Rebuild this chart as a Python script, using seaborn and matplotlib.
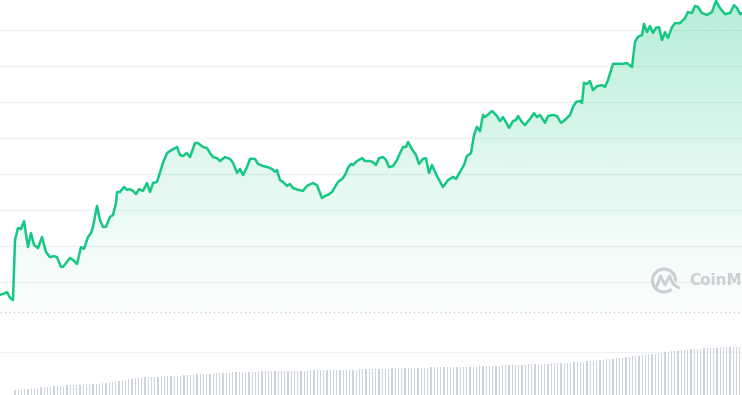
import numpy as np
import matplotlib
matplotlib.use("Agg")
import matplotlib.pyplot as plt
import seaborn as sns
from matplotlib.patches import Arc
from matplotlib.lines import Line2D

# ---------------- data ----------------
t = [0, 5, 7, 10, 13, 15, 18, 21, 24, 28, 31, 34, 38, 42, 46, 50, 54, 57, 61, 63, 67, 70, 73, 77, 81, 84, 88,
     91, 93, 97, 100, 103, 106, 110, 113, 116, 117, 120, 124, 127, 130, 133, 136, 139, 143, 147, 150, 153, 157,
     163, 167, 170, 177, 180, 183, 187, 190, 195, 198, 203, 207, 210, 213, 217, 220, 225, 230, 233, 237, 240,
     243, 247, 250, 255, 258, 263, 268, 272, 275, 277, 280, 283, 287, 290, 293, 298, 303, 307, 313, 317,
     322, 325, 328, 332, 335, 338, 342, 345, 348, 351, 353, 357, 362, 365, 370, 373, 376, 379, 383, 386, 389,
     393, 397, 400, 403, 406, 408, 412, 416, 419, 423, 426, 429, 432, 435, 438, 443, 448, 453, 456, 460, 464,
     467, 471, 474, 477, 480,
     483, 485, 492, 497, 500, 503, 507, 509, 513, 516, 518, 522, 525, 530, 534, 537, 540, 545, 548, 553, 557,
     561, 565, 570, 573, 576, 580, 582, 584, 587, 590, 593, 597, 602, 605, 608, 613, 618, 623, 627,
     632, 635, 638, 642, 644, 647, 650, 653, 656, 659, 662, 665, 668, 672, 675, 680, 685, 688, 692, 695, 698,
     702, 707, 712, 716, 720, 725, 730, 734, 737, 740, 742]

price = [964, 969, 972, 956, 950, 1117, 1150, 1147, 1169, 1097, 1136, 1103, 1094, 1125, 1083, 1069, 1072, 1069,
         1042, 1042, 1056, 1067, 1061, 1050, 1097, 1092, 1125, 1136, 1153, 1211, 1172, 1153, 1153, 1181, 1186,
         1219, 1250, 1250, 1264, 1256, 1258, 1253, 1244, 1258, 1253, 1275, 1250, 1275, 1278,
         1331, 1358, 1364, 1375, 1353, 1350, 1358, 1347, 1386, 1386, 1375, 1372, 1358, 1347, 1344, 1336, 1347,
         1342, 1331, 1303, 1314, 1297, 1319, 1342, 1342, 1328, 1322, 1319, 1314, 1306, 1311, 1283, 1278, 1267,
         1272, 1261, 1256, 1253, 1267, 1275, 1269,
         1233, 1239, 1242, 1250, 1264, 1278, 1286, 1297, 1317, 1328, 1325, 1336, 1344, 1336, 1336, 1333, 1325,
         1344, 1347, 1339, 1319, 1322, 1339, 1358, 1375, 1375, 1389, 1369, 1353, 1328, 1342, 1344, 1303, 1325,
         1306, 1289, 1264, 1283, 1292, 1286, 1306, 1325, 1350, 1358, 1408, 1431, 1419,
         1464, 1458, 1475, 1461, 1447, 1458, 1439, 1428, 1447, 1450, 1461, 1444, 1436, 1453, 1469, 1458, 1464,
         1442, 1461, 1464, 1461, 1442, 1450, 1464, 1486, 1500, 1503, 1497, 1553, 1550, 1558, 1533, 1544, 1547,
         1542, 1561, 1606, 1606, 1606, 1608,
         1597, 1667, 1681, 1686, 1717, 1694, 1711, 1692, 1706, 1708, 1672, 1694, 1678, 1708, 1719, 1719, 1733,
         1750, 1747, 1767, 1764, 1747, 1742, 1750, 1781, 1761, 1744, 1747, 1769, 1761, 1744, 1747]

volume = [5, 5, 6, 6, 6, 7, 7, 7, 8, 8, 8,
          8, 9, 9, 9, 9, 10, 10, 10, 10, 10, 11, 11, 11, 11, 11, 11,
          12, 12, 13, 13, 14, 14, 15, 15, 16, 16,
          17, 17, 17, 18, 18, 18, 18, 18, 19, 19, 19, 19, 19, 19, 19,
          20, 20, 20, 20, 21, 21, 21, 21, 21, 22, 22, 22, 22, 22, 22, 23, 23, 23, 23, 23, 23,
          23, 23, 23, 24, 24, 24, 24, 24, 24, 24, 24, 24, 24, 24, 24,
          24, 24, 24, 25, 25, 25, 25, 25, 25, 25, 25, 25, 25, 25, 25, 25, 25, 25, 26, 26, 26, 26,
          26, 26, 26, 26, 26, 26, 27, 27, 27, 27, 27, 27, 27, 27, 27, 27, 27, 27,
          28, 28, 28, 28, 28, 28, 28, 28, 28, 28, 28, 28, 28,
          28, 28, 29, 29, 29, 29, 29, 29, 29, 30, 30, 30, 30, 30, 30, 30, 30,
          31, 31, 31, 31, 31, 31, 31, 32, 32, 32, 32, 32, 32,
          32, 33, 33, 33, 33, 34, 34, 34, 35, 35, 35, 36, 36, 36, 37, 37,
          37, 38, 38, 39, 39, 39, 40, 40, 41, 41, 41, 42, 42, 43, 43, 44, 44, 44, 45, 45, 45,
          46, 46, 46, 46, 47, 47, 47, 47, 47, 48, 48, 48, 48, 48, 48, 48]

price_grid = [1000, 1100, 1200, 1300, 1400, 1500, 1600, 1700]
price_base = 916.7
price_limits = (686.1, 1783.3)
volume_grid = 43
volume_limit = 83
watermark = "CoinMarketCap"

# ---------------- style ----------------
GREEN = "#16c784"
GRID = "#f0f1f3"

sns.set_theme(style="white")
plt.rcParams["font.family"] = ["DejaVu Sans"]

W, H = 742, 395
fig = plt.figure(figsize=(W / 100, H / 100), dpi=100)
fig.patch.set_facecolor("white")

# volume panel (bottom strip)
axv = fig.add_axes([0, 0, 1, volume_limit / H])
axv.patch.set_alpha(0)
sns.barplot(x=list(range(len(volume))), y=volume, ax=axv, color="#cfd5de",
            width=0.32, saturation=1, errorbar=None, linewidth=0)
n = len(volume)
axv.set_xlim(-15 / 3.25, n - 1 + 2.25 / 3.25)
axv.set_ylim(0, volume_limit)
axv.axhline(volume_grid, color=GRID, lw=1, zorder=0)
axv.set_axis_off()

# price panel
ax = fig.add_axes([0, 0, 1, 1])
ax.patch.set_alpha(0)
for g in price_grid:
    ax.axhline(g, color=GRID, lw=1, zorder=0)
ax.axhline(price_base, color="#c9ccd1", lw=1, ls=(0, (1, 2.2)), zorder=0)

fill = ax.fill_between(t, price, price_base, facecolor="none", edgecolor="none")
frac = np.linspace(0, 1, 256)
alpha = 0.02 + 0.30 * frac ** 1.3
img = np.zeros((256, 1, 4))
img[..., :3] = matplotlib.colors.to_rgb(GREEN)
img[:, 0, 3] = alpha
im = ax.imshow(img, extent=[t[0], t[-1], price_base, price_limits[1]], origin="lower",
               aspect="auto", zorder=1, interpolation="bilinear")
im.set_clip_path(fill.get_paths()[0], transform=ax.transData)

sns.lineplot(x=t, y=price, ax=ax, color=GREEN, linewidth=1.8, zorder=3)
ax.set_xlim(t[0], t[-1])
ax.set_ylim(*price_limits)
ax.set_axis_off()

# watermark
WM = "#cbced3"
def fx(px):
    return px / W
def fy(py):
    return 1 - py / H
fig.add_artist(Arc((fx(664), fy(280.5)), 23 / W, 23 / H, theta1=-10, theta2=295,
                   transform=fig.transFigure, color=WM, lw=2.2))
wx = [656.5, 660.5, 665, 669.5, 673, 679]
wy = [287, 276, 285, 276, 284, 288]
fig.add_artist(Line2D([fx(v) for v in wx], [fy(v) for v in wy], transform=fig.transFigure,
                      color=WM, lw=2.0, solid_joinstyle="round", solid_capstyle="round"))
fig.text(fx(689), fy(280), watermark, fontsize=11, color=WM, fontweight="bold",
         va="center", ha="left")

fig.savefig("out.png", dpi=100, facecolor="white")
